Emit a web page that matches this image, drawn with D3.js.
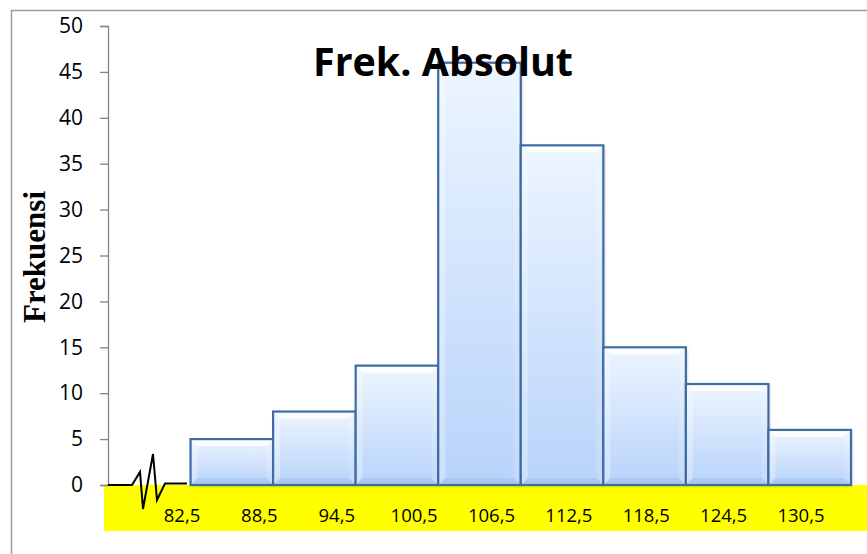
<!DOCTYPE html>
<html>
<head>
<meta charset="utf-8">
<script src="https://cdn.jsdelivr.net/npm/d3@7"></script>
<style>
  html, body { margin: 0; padding: 0; background: #fff; }
  #chart { width: 867px; height: 554px; }
</style>
</head>
<body>
<div id="chart"></div>
<script>
// Histogram: Frek. Absolut

// Class boundaries (lower edge of each bin, plus last upper edge)
let boundaries = [82.5, 88.5, 94.5, 100.5, 106.5, 112.5, 118.5, 124.5, 130.5];
let boundaryLabels = ['82,5', '88,5', '94,5', '100,5', '106,5', '112,5', '118,5', '124,5', '130,5'];
let frequencies = [5, 8, 13, 46, 37, 15, 11, 6];
let yTicks = [0, 5, 10, 15, 20, 25, 30, 35, 40, 45, 50];
let title = 'Frek. Absolut';
let yTitle = 'Frekuensi';

let width = 867;
let height = 554;
let binWidth = boundaries[1] - boundaries[0];

let bins = frequencies.map((f, i) => ({
  x0: boundaries[i],
  x1: boundaries[i + 1],
  value: f
}));

let svg = d3.select('#chart').append('svg')
  .attr('width', width)
  .attr('height', height);

// Scales
let x = d3.scaleLinear()
  .domain([boundaries[0] - binWidth, boundaries[boundaries.length - 1]])
  .range([108, 851]);

let y = d3.scaleLinear()
  .domain([0, 50])
  .range([485, 26]);

// label positions along the yellow strip
let xLabel = d3.scalePoint()
  .domain(boundaryLabels)
  .range([182, 801]);

// Gradient + shadow
let defs = svg.append('defs');
let grad = defs.append('linearGradient')
  .attr('id', 'barGrad')
  .attr('x1', 0).attr('y1', 0).attr('x2', 0).attr('y2', 1);
grad.append('stop').attr('offset', '0%').attr('stop-color', '#edf5ff');
grad.append('stop').attr('offset', '100%').attr('stop-color', '#b8d3fa');

let shadow = defs.append('filter')
  .attr('id', 'shadow')
  .attr('x', '-10%').attr('y', '-10%').attr('width', '130%').attr('height', '130%');
shadow.append('feDropShadow')
  .attr('dx', 1).attr('dy', 1).attr('stdDeviation', 1.5)
  .attr('flood-color', '#000').attr('flood-opacity', 0.25);

// Outer frame (left + top)
svg.append('path')
  .attr('d', `M11.5,${height} V10.5 H${width}`)
  .attr('fill', 'none')
  .attr('stroke', '#9a9a9a')
  .attr('stroke-width', 1.5);

// Yellow label strip
svg.append('rect')
  .attr('x', 104)
  .attr('y', y(0))
  .attr('width', width - 104)
  .attr('height', 46)
  .attr('fill', '#ffff00');

// Y axis
let yAxis = d3.axisLeft(y)
  .tickValues(yTicks)
  .tickSize(8)
  .tickPadding(17);

let gy = svg.append('g')
  .attr('transform', `translate(${x.range()[0]},0)`)
  .call(yAxis);
gy.select('.domain').attr('stroke', '#868686').attr('stroke-width', 1.3);
gy.selectAll('.tick line').attr('stroke', '#868686').attr('stroke-width', 1.3);
gy.selectAll('.tick text')
  .attr('fill', '#000')
  .style('font-family', '"Open Sans", sans-serif')
  .style('font-size', '21px');

// Bars
let bevel = 7;
let groups = svg.selectAll('g.bar')
  .data(bins)
  .enter()
    .append('g')
    .classed('bar', true);

groups.append('rect')
  .attr('x', d => x(d.x0))
  .attr('y', d => y(d.value))
  .attr('width', d => x(d.x1) - x(d.x0))
  .attr('height', d => y(0) - y(d.value))
  .attr('fill', 'url(#barGrad)')
  .attr('filter', 'url(#shadow)');

// bevel faces
const face = (d, side) => {
  let l = x(d.x0), r = x(d.x1), t = y(d.value), b = y(0);
  if (side === 'top') return `M${l},${t}L${r},${t}L${r - bevel},${t + bevel}L${l + bevel},${t + bevel}Z`;
  if (side === 'left') return `M${l},${t}L${l + bevel},${t + bevel}L${l + bevel},${b - bevel}L${l},${b}Z`;
  if (side === 'right') return `M${r},${t}L${r - bevel},${t + bevel}L${r - bevel},${b - bevel}L${r},${b}Z`;
  return `M${l},${b}L${l + bevel},${b - bevel}L${r - bevel},${b - bevel}L${r},${b}Z`;
};
groups.append('path').attr('d', d => face(d, 'top')).attr('fill', '#fff').attr('opacity', 0.8);
groups.append('path').attr('d', d => face(d, 'left')).attr('fill', '#fff').attr('opacity', 0.3);
groups.append('path').attr('d', d => face(d, 'right')).attr('fill', '#fff').attr('opacity', 0.15);
groups.append('path').attr('d', d => face(d, 'bottom')).attr('fill', '#5a86c4').attr('opacity', 0.15);

groups.append('rect')
  .attr('x', d => x(d.x0))
  .attr('y', d => y(d.value))
  .attr('width', d => x(d.x1) - x(d.x0))
  .attr('height', d => y(0) - y(d.value))
  .attr('fill', 'none')
  .attr('stroke', '#3f6ca4')
  .attr('stroke-width', 2.2);

// Axis break mark between origin and first class
let x0 = x.range()[0], y0 = y(0);
let breakPts = [[0, 0], [24, 0], [32, -13], [35, 24], [45, -31], [49, 15], [57, -1.5], [79, -1.5]];
svg.append('path')
  .attr('d', d3.line()(breakPts.map(p => [x0 + p[0], y0 + p[1]])))
  .attr('fill', 'none')
  .attr('stroke', '#000')
  .attr('stroke-width', 2);

// Boundary labels
svg.selectAll('text.xlabel')
  .data(boundaryLabels)
  .enter()
    .append('text')
    .classed('xlabel', true)
    .attr('x', d => xLabel(d))
    .attr('y', 522)
    .attr('text-anchor', 'middle')
    .style('font-family', '"Open Sans", sans-serif')
    .style('font-size', '18.5px')
    .text(d => d);

// Title
svg.append('text')
  .attr('x', 443)
  .attr('y', 76)
  .attr('text-anchor', 'middle')
  .attr('textLength', 260)
  .attr('lengthAdjust', 'spacingAndGlyphs')
  .style('font-family', '"Open Sans", sans-serif')
  .style('font-weight', 'bold')
  .style('font-size', '40px')
  .text(title);

// Y axis title
svg.append('text')
  .attr('transform', 'translate(45,257) rotate(-90)')
  .attr('text-anchor', 'middle')
  .style('font-family', '"Liberation Serif", serif')
  .style('font-weight', 'bold')
  .style('font-size', '31px')
  .text(yTitle);
</script>
</body>
</html>
